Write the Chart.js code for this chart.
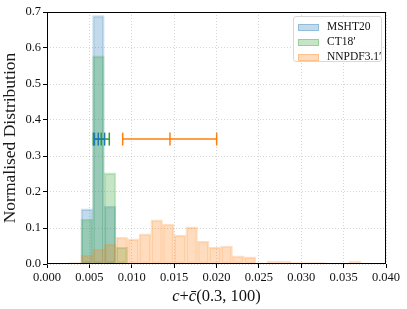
<!DOCTYPE html>
<html>
<head>
<meta charset="utf-8">
<script src="https://cdn.jsdelivr.net/npm/chart.js@4.4.0/dist/chart.umd.min.js"></script>
<style>
  html, body { margin: 0; padding: 0; background: #fff; }
  #wrap { position: relative; width: 407px; height: 309px; font-family: "Liberation Serif", serif; color: #111; }
  #legend { position: absolute; left: 293px; top: 16px; width: 89px; height: 46px; box-sizing: border-box;
            border: 1px solid #d8d8d8; border-radius: 3px; background: rgba(255,255,255,0.85); }
  .row { position: absolute; left: 4px; height: 12px; font-size: 11.5px; line-height: 12px; white-space: nowrap; }
  .patch { display: inline-block; width: 21px; height: 7px; vertical-align: middle; margin-right: 8px; box-sizing: border-box; }
  #xtitle { position: absolute; left: 47px; width: 339px; top: 286px; text-align: center; font-size: 16.5px; }
</style>
</head>
<body>
<div id="wrap">
  <canvas id="chart" width="407" height="309"></canvas>
  <div id="legend"></div>
  <div id="xtitle"><i>c</i>+<i>c̄</i>(0.3, 100)</div>
</div>
<script>
// bin centres (shared histogram bins)
const binCenters = [0.0033175, 0.0046925, 0.0060675, 0.0074425, 0.0088175, 0.0101925, 0.0115675, 0.0129425,
    0.0143175, 0.0156925, 0.0170675, 0.0184425, 0.0198175, 0.0211925, 0.0225675, 0.0239425, 0.0253175,
    0.0266925, 0.0280675, 0.0294425, 0.0308175, 0.0321925, 0.0335675, 0.0349425, 0.0363175];

const mshtValues = [0, 0.153, 0.690, 0.160, 0, 0, 0, 0, 0, 0, 0, 0, 0, 0, 0, 0, 0, 0, 0, 0, 0, 0, 0, 0, 0];
const ct18Values = [0, 0.124, 0.578, 0.253, 0.047, 0, 0, 0, 0, 0, 0, 0, 0, 0, 0, 0, 0, 0, 0, 0, 0, 0, 0, 0, 0];
const nnpdfValues = [0.004, 0.025, 0.041, 0.056, 0.074, 0.070, 0.084, 0.123, 0.111, 0.080, 0.103, 0.063, 0.047,
    0.050, 0.023, 0.020, 0.003, 0.008, 0.008, 0.004, 0.004, 0.004, 0, 0, 0.008];

// error bars: [low, central, high]
const mshtErr = [0.00560, 0.00605, 0.00680];
const ct18Err = [0.00547, 0.00640, 0.00735];
const nnpdfErr = [0.00893, 0.01451, 0.02002];
const errY = 0.347;

const seriesNames = ['MSHT20', 'CT18\u2032', 'NNPDF3.1\u2032'];
const seriesColors = ['31,119,180', '44,160,44', '255,127,14'];

const xTicks = [0, 0.005, 0.01, 0.015, 0.02, 0.025, 0.03, 0.035, 0.04];
const yTicks = [0, 0.1, 0.2, 0.3, 0.4, 0.5, 0.6, 0.7];

const serif = '"Liberation Serif", serif';

function histData(values) {
    return binCenters.map((c, i) => ({ x: c, y: values[i] }));
}

function errData(err) {
    return err.map(v => ({ x: v, y: errY }));
}

const allValues = [mshtValues, ct18Values, nnpdfValues];
const allErr = [mshtErr, ct18Err, nnpdfErr];

const datasets = [];
allValues.forEach((vals, i) => {
    datasets.push({
        type: 'bar',
        label: seriesNames[i],
        data: histData(vals),
        backgroundColor: 'rgba(' + seriesColors[i] + ',0.27)',
        borderColor: 'rgba(' + seriesColors[i] + ',0.25)',
        borderWidth: 1.5,
        borderSkipped: false,
        barPercentage: 1,
        categoryPercentage: 1,
        grouped: false,
        order: 3 - i
    });
});
allErr.forEach((err, i) => {
    datasets.push({
        type: 'line',
        label: seriesNames[i] + ' err',
        data: errData(err),
        borderColor: 'rgb(' + seriesColors[i] + ')',
        borderWidth: 1.5,
        pointStyle: 'line',
        pointRotation: 90,
        pointRadius: 6.5,
        pointBorderWidth: 1.5,
        pointBorderColor: 'rgb(' + seriesColors[i] + ')',
        fill: false,
        order: 0
    });
});

const framePlugin = {
    id: 'frame',
    afterDraw(chart) {
        const a = chart.chartArea;
        const ctx = chart.ctx;
        ctx.save();
        ctx.strokeStyle = '#000';
        ctx.lineWidth = 1;
        ctx.strokeRect(a.left + 0.5, a.top + 0.5, a.right - a.left - 1, a.bottom - a.top - 1);
        ctx.restore();
    }
};

new Chart(document.getElementById('chart'), {
    type: 'bar',
    data: { datasets: datasets },
    options: {
        responsive: false,
        animation: false,
        devicePixelRatio: 1,
        layout: { padding: { top: 12, right: 21, left: 0, bottom: 0 } },
        plugins: { legend: { display: false }, tooltip: { enabled: false } },
        scales: {
            x: {
                type: 'linear',
                min: 0,
                max: 0.04,
                offset: false,
                afterFit: s => { s.height = 45; },
                afterBuildTicks: s => { s.ticks = xTicks.map(v => ({ value: v })); },
                ticks: { callback: v => v.toFixed(3), color: '#111', font: { family: serif, size: 12.5 }, maxRotation: 0, padding: 2 },
                grid: { color: 'rgba(180,180,180,0.7)', lineWidth: 0.8, offset: false, tickColor: '#000', tickLength: 4, tickWidth: 1 },
                border: { display: false, dash: [1, 2] }
            },
            y: {
                min: 0,
                max: 0.7,
                afterFit: s => { s.width = 47; },
                afterBuildTicks: s => { s.ticks = yTicks.map(v => ({ value: v })); },
                ticks: { callback: v => v.toFixed(1), color: '#111', font: { family: serif, size: 12.5 }, padding: 2 },
                grid: { color: 'rgba(180,180,180,0.7)', lineWidth: 0.8, tickColor: '#000', tickLength: 4, tickWidth: 1 },
                border: { display: false, dash: [1, 2] },
                title: { display: true, text: 'Normalised Distribution', color: '#1a1a1a', font: { family: serif, size: 17.5 }, padding: { top: 0, bottom: 0 } }
            }
        }
    },
    plugins: [framePlugin]
});

// legend inside the plot, top right
const legend = document.getElementById('legend');
seriesNames.forEach((name, i) => {
    const row = document.createElement('div');
    row.className = 'row';
    row.style.top = (3 + i * 15) + 'px';
    const patch = document.createElement('span');
    patch.className = 'patch';
    patch.style.background = 'rgba(' + seriesColors[i] + ',0.27)';
    patch.style.border = '1px solid rgba(' + seriesColors[i] + ',0.3)';
    row.appendChild(patch);
    row.appendChild(document.createTextNode(name));
    legend.appendChild(row);
});
</script>
</body>
</html>
